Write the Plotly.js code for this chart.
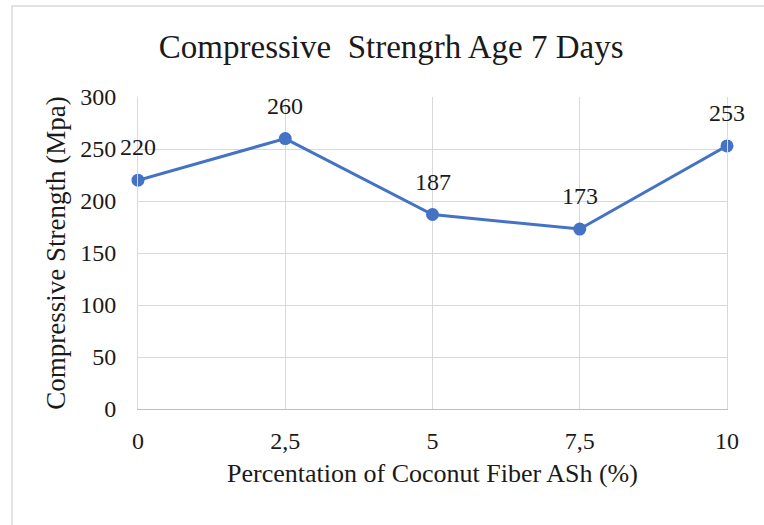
<!DOCTYPE html>
<html>
<head>
<meta charset="utf-8">
<script src="https://cdn.plot.ly/plotly-3.0.1.min.js"></script>
<style>
  html, body { margin: 0; padding: 0; background: #ffffff; }
  #chart { width: 764px; height: 525px; }
</style>
</head>
<body>
<div id="chart"></div>
<script>
// Data
const xValues = [0, 2.5, 5, 7.5, 10];
const xTickLabels = ['0', '2,5', '5', '7,5', '10'];
const strengthValues = [220, 260, 187, 173, 253];
const yTickValues = [0, 50, 100, 150, 200, 250, 300];

const serif = 'Liberation Serif, Times New Roman, serif';
const textColor = '#1a1a1a';
const lineBlue = '#4472c4';

const trace = {
  type: 'scatter',
  mode: 'lines+markers',
  x: xValues,
  y: strengthValues,
  line: { color: lineBlue, width: 3 },
  marker: { color: lineBlue, size: 13 },
  cliponaxis: false,
  hoverinfo: 'skip'
};

const annotations = xValues.map((x, i) => ({
  x: x,
  y: strengthValues[i],
  xref: 'x',
  yref: 'y',
  text: String(strengthValues[i]),
  showarrow: false,
  yshift: 33,
  font: { family: serif, size: 24, color: textColor }
}));

const layout = {
  width: 764,
  height: 525,
  paper_bgcolor: '#ffffff',
  plot_bgcolor: '#ffffff',
  margin: { l: 138, r: 37, t: 97, b: 116 },
  showlegend: false,
  title: {
    text: 'Compressive&nbsp; Strengrh Age 7 Days',
    font: { family: serif, size: 33, color: textColor },
    xref: 'container', yref: 'container',
    x: 0.512, xanchor: 'center',
    y: 1 - 46 / 525, yanchor: 'middle'
  },
  xaxis: {
    range: [0, 10],
    tickvals: xValues,
    ticktext: xTickLabels,
    showgrid: true,
    gridcolor: '#d9d9d9',
    gridwidth: 1,
    zeroline: false,
    showline: true,
    linecolor: '#bfbfbf',
    linewidth: 1,
    ticks: 'outside',
    ticklen: 10,
    tickcolor: 'rgba(0,0,0,0)',
    tickfont: { family: serif, size: 24, color: textColor },
    title: {
      text: 'Percentation of Coconut Fiber ASh (%)',
      font: { family: serif, size: 26, color: textColor },
      standoff: 11
    },
    fixedrange: true
  },
  yaxis: {
    range: [0, 300],
    tickvals: yTickValues,
    showgrid: true,
    gridcolor: '#d9d9d9',
    gridwidth: 1,
    zeroline: false,
    showline: true,
    mirror: true,
    linecolor: '#d9d9d9',
    linewidth: 1,
    ticks: 'outside',
    ticklen: 16,
    tickcolor: 'rgba(0,0,0,0)',
    tickfont: { family: serif, size: 24, color: textColor },
    title: {
      text: 'Compressive Strength (Mpa)',
      font: { family: serif, size: 27, color: textColor },
      standoff: 6
    },
    fixedrange: true
  },
  annotations: annotations,
  shapes: [{
    type: 'rect',
    xref: 'paper', yref: 'paper',
    x0: (12 - 138) / 589, x1: 1.3,
    y0: -0.6, y1: (409 - 6) / 312,
    line: { color: '#d9d9d9', width: 1.5 },
    fillcolor: 'rgba(0,0,0,0)',
    layer: 'below'
  }]
};

Plotly.newPlot('chart', [trace], layout, { displayModeBar: false, staticPlot: true });
</script>
</body>
</html>
